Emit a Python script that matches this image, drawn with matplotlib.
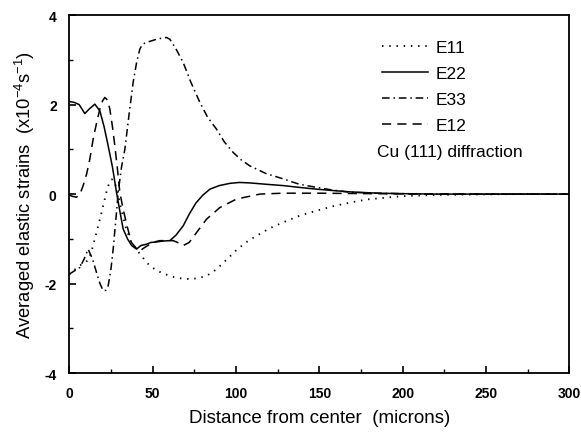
import matplotlib.pyplot as plt
from matplotlib.ticker import MultipleLocator

plt.rcParams["font.family"] = ["Liberation Sans", "DejaVu Sans"]
plt.rcParams["axes.unicode_minus"] = False
plt.rcParams["mathtext.default"] = "regular"

# E11 (dotted)
x_e11 = [0, 3, 6, 9, 12, 14, 16.4, 18.5, 20.4, 22.4, 24, 25.5, 27, 29, 31, 34, 37, 40,
         43.4, 47, 51.4, 56, 61.4, 66, 72.4, 77, 82.4, 88.4, 94, 100.4, 106, 112.4, 120,
         128.4, 138.4, 148.4, 158.4, 168.4, 178.4, 198.4, 218, 240, 270, 300]
y_e11 = [-1.8, -1.7, -1.6, -1.55, -1.45, -1.2, -0.86, -0.55, -0.26, 0.05, 0.25, 0.33, 0.3,
         0.05, -0.3, -0.75, -1.05, -1.22, -1.38, -1.55, -1.68, -1.77, -1.84, -1.88, -1.9,
         -1.88, -1.83, -1.68, -1.48, -1.25, -1.08, -0.93, -0.77, -0.63, -0.48, -0.37, -0.27,
         -0.19, -0.12, -0.05, -0.02, -0.01, 0, 0]

# E22 (solid)
x_e22 = [0, 3, 6, 9.4, 12, 15.4, 18.4, 21, 23.4, 26, 28.4, 30.5, 32.4, 35, 37.5, 40.4, 43,
         46.4, 49, 52.4, 56, 60.4, 64, 68.4, 72, 76, 80, 84.4, 90, 96.4, 102, 108.4, 118,
         128.4, 138, 148.4, 158, 168.4, 185, 200, 220, 250, 300]
y_e22 = [2.07, 2.05, 2.0, 1.80, 1.90, 2.01, 1.86, 1.5, 1.08, 0.6, 0.04, -0.4, -0.78, -1.0,
         -1.15, -1.23, -1.15, -1.12, -1.08, -1.07, -1.05, -1.04, -0.92, -0.71, -0.45, -0.2,
         -0.03, 0.11, 0.19, 0.24, 0.26, 0.25, 0.22, 0.19, 0.15, 0.11, 0.08, 0.05, 0.02,
         0.01, 0, 0, 0]

# E33 (dash-dot)
x_e33 = [0, 3, 6.4, 9, 11.4, 14, 16.4, 18.5, 20.4, 22, 23.4, 25, 26.4, 28.4, 29.4, 31.4,
         33.4, 36, 38.4, 40.5, 42.4, 44, 46.4, 49, 52.4, 55, 58.4, 60.4, 64, 68.4, 73, 78.4,
         83, 88.4, 93, 98.4, 103, 108.4, 118, 128.4, 138, 148.4, 158, 168.4, 185, 200, 220,
         250, 300]
y_e33 = [-1.79, -1.72, -1.64, -1.45, -1.23, -1.45, -1.75, -2.0, -2.16, -2.15, -2.05, -1.7,
         -1.23, -0.41, 0.04, 0.6, 1.0, 1.8, 2.5, 2.95, 3.24, 3.35, 3.39, 3.42, 3.46, 3.48,
         3.5, 3.46, 3.25, 2.94, 2.5, 2.05, 1.72, 1.45, 1.17, 0.93, 0.77, 0.63, 0.46, 0.34,
         0.22, 0.15, 0.09, 0.04, 0.02, 0.01, 0, 0, 0]

# E12 (dashed)
x_e12 = [0, 2, 4.4, 6.5, 8.4, 10.5, 12.4, 14.4, 16.5, 18.4, 20, 21.4, 23, 24.4, 26, 27.4,
         29, 30.4, 32.4, 35, 37.4, 40, 42.4, 45, 48.4, 51, 54.4, 58, 62.4, 65, 68.4, 72,
         76.4, 82.4, 90.4, 100.4, 114.4, 128, 150, 180, 220, 300]
y_e12 = [-0.02, -0.05, -0.07, 0.0, 0.19, 0.45, 0.78, 1.23, 1.6, 1.9, 2.08, 2.16, 2.1, 1.9,
         1.5, 1.08, 0.55, 0.04, -0.34, -0.75, -1.08, -1.2, -1.27, -1.2, -1.12, -1.07, -1.04,
         -1.04, -1.04, -1.08, -1.15, -1.08, -0.86, -0.56, -0.30, -0.11, 0.0, 0.02, 0.02,
         0.01, 0, 0]


def main():
    fig = plt.figure(figsize=(5.81, 4.35), dpi=100)
    ax = fig.add_axes([0.119, 0.140, 0.861, 0.823])

    lw = 1.1
    ax.plot(x_e11, y_e11, color="black", lw=1.3, linestyle=(0, (0.8, 3.2)), label="E11")
    ax.plot(x_e22, y_e22, color="black", lw=lw, linestyle="-", label="E22")
    ax.plot(x_e33, y_e33, color="black", lw=lw, linestyle=(0, (5, 2.5, 1, 2.5)), label="E33")
    ax.plot(x_e12, y_e12, color="black", lw=lw, linestyle=(0, (6, 4)), label="E12")

    ax.set_xlim(0, 300)
    ax.set_ylim(-4, 4)
    ax.xaxis.set_major_locator(MultipleLocator(50))
    ax.xaxis.set_minor_locator(MultipleLocator(25))
    ax.yaxis.set_major_locator(MultipleLocator(2))
    ax.yaxis.set_minor_locator(MultipleLocator(1))
    ax.tick_params(which="both", direction="in", top=False, right=False)
    ax.tick_params(which="major", length=5, width=1.2, labelsize=10, pad=9)
    ax.tick_params(which="minor", length=3, width=1)
    for lab in ax.get_xticklabels() + ax.get_yticklabels():
        lab.set_fontweight("bold")
    for s in ax.spines.values():
        s.set_linewidth(1.3)

    ax.set_xlabel("Distance from center  (microns)", fontsize=13.5, labelpad=7)
    ax.set_ylabel("Averaged elastic strains  (x10$^{-4}$s$^{-1}$)", fontsize=13.2, labelpad=5)

    ax.legend(loc="upper left", bbox_to_anchor=(0.595, 0.975), frameon=False,
              fontsize=12.5, handlelength=2.65, handletextpad=0.4, labelspacing=0.63)
    ax.text(0.615, 0.62, "Cu (111) diffraction", transform=ax.transAxes,
            fontsize=12.5, va="center", ha="left")

    fig.savefig("out.png", dpi=100)


if __name__ == "__main__":
    main()
